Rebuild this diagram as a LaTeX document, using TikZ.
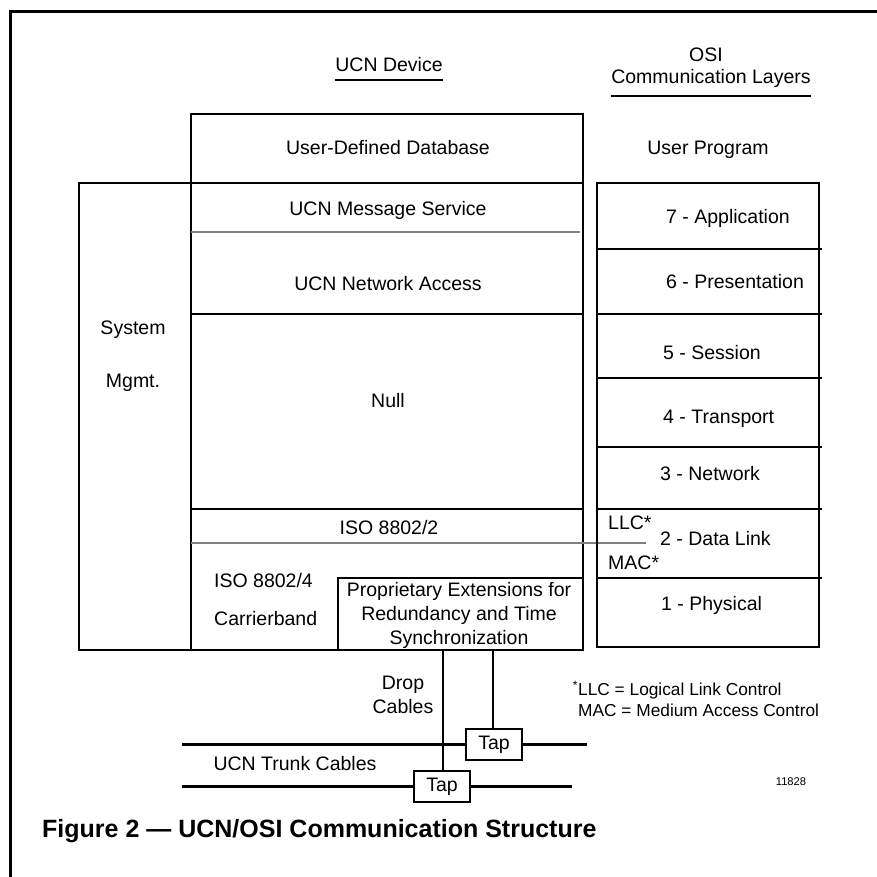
\documentclass[tikz,border=0pt]{standalone}
\usepackage{fontspec}
\setmainfont{Liberation Sans}
\definecolor{rulegray}{RGB}{128,128,128}
\begin{document}
\begin{tikzpicture}[x=1pt,y=-1pt,
  box/.style={line width=2.7pt},
  rule/.style={line width=1.8pt, draw=rulegray},
  lbl/.style={font=\fontsize{19.5}{24}\selectfont, inner sep=0pt, text height=14pt, text depth=0pt},
  ml/.style={font=\fontsize{19.5}{24}\selectfont, inner sep=0pt, align=center},
  tapbox/.style={draw, line width=2.4pt, minimum width=56pt, minimum height=31pt, inner sep=0pt, font=\fontsize{19.5}{24}\selectfont},
  cable/.style={line width=2.7pt}]
\useasboundingbox (0,0) rectangle (877,877);
\fill[white] (0,0) rectangle (877,877);

% frame
\draw[line width=3pt] (10,877) -- (10,12) -- (877,12);

% UCN device stack
\draw[box] (191,114) rectangle (583,183);
\draw[box] (79,183) rectangle (583,650);
\draw[box] (191,183) -- (191,650);
\draw[box] (191,314) -- (583,314);
\draw[box] (191,509) -- (583,509);
\draw[box] (338,650) -- (338,578) -- (583,578);
\draw[rule] (191,232) -- (580,232);
\draw[rule] (191,543) -- (646,543);

% OSI column
\draw[box] (597,183) rectangle (819,647);
\foreach \yy in {249,314,378,447,509,578} \draw[box] (597,\yy) -- (822,\yy);

% headings
\node[lbl] (ucndev) at (389,65) {UCN Device};
\draw[line width=1.8pt] ([yshift=-8pt]ucndev.south west) -- ([yshift=-8pt]ucndev.south east);
\node[lbl] (osi) at (706,55) {OSI};
\node[lbl] (comm) at (711,77) {Communication Layers};
\draw[line width=1.8pt] ([yshift=-12pt]comm.south west) -- ([yshift=-12pt]comm.south east);

% UCN labels
\node[lbl] (udd) at (388,148) {User-Defined Database};
\node[lbl] (uprog) at (708,148) {User Program};
\node[lbl] (msg) at (388,208) {UCN Message Service};
\node[lbl] (acc) at (388,283) {UCN Network Access};
\node[lbl] (sys) at (133,327) {System};
\node[lbl] (mgmt) at (133,380) {Mgmt.};
\node[lbl] (null) at (388,400) {Null};
\node[lbl] (iso2) at (389,527) {ISO 8802/2};
\node[lbl, anchor=west] (iso4) at (214,580) {ISO 8802/4};
\node[lbl, anchor=west] (carr) at (214,618) {Carrierband};
\node[ml] (prop) at (459,615) {Proprietary Extensions for\\Redundancy and Time\\Synchronization};

% OSI labels
\node[lbl, anchor=west] (l7) at (666,216) {7 - Application};
\node[lbl, anchor=west] (l6) at (666,281) {6 - Presentation};
\node[lbl, anchor=west] (l5) at (663,352) {5 - Session};
\node[lbl, anchor=west] (l4) at (663,416) {4 - Transport};
\node[lbl, anchor=west] (l3) at (660,473) {3 - Network};
\node[lbl, anchor=west] (llc) at (608,522) {LLC*};
\node[lbl, anchor=west] (l2) at (660,538) {2 - Data Link};
\node[lbl, anchor=west] (mac) at (608,562) {MAC*};
\node[lbl, anchor=west] (l1) at (661,603) {1 - Physical};

% footnote
\node[font=\fontsize{17.3}{21}\selectfont, inner sep=0pt, align=left, anchor=west] (foot) at (578,699)
  {\llap{\textsuperscript{*}}LLC = Logical Link Control\\MAC = Medium Access Control};

% cables
\node[ml] (drop) at (403,695) {Drop\\Cables};
\node[tapbox] (tapA) at (494,744.5) {Tap};
\node[tapbox] (tapB) at (442,786.5) {Tap};
\coordinate (d1) at (443,650);
\coordinate (d2) at (493,650);
\draw[cable] (d1) -- (d1 |- tapB.north);
\draw[cable] (d2) -- (d2 |- tapA.north);
\coordinate (ta1) at (182,744.5);
\coordinate (ta2) at (587,744.5);
\coordinate (tb1) at (182,786.5);
\coordinate (tb2) at (572,786.5);
\draw[cable] (ta1) -- (tapA);
\draw[cable] (tapA) -- (ta2);
\draw[cable] (tb1) -- (tapB);
\draw[cable] (tapB) -- (tb2);
\node[lbl] (trunk) at (295,763) {UCN Trunk Cables};
\node[font=\fontsize{11.2}{13}\selectfont, inner sep=0pt] (num) at (791,782) {11828};

% title
\node[font=\fontsize{25}{30}\selectfont\bfseries, inner sep=0pt, text height=18pt, text depth=0pt, anchor=west] (title) at (42,828)
  {Figure 2 — UCN/OSI Communication Structure};
\end{tikzpicture}
\end{document}
